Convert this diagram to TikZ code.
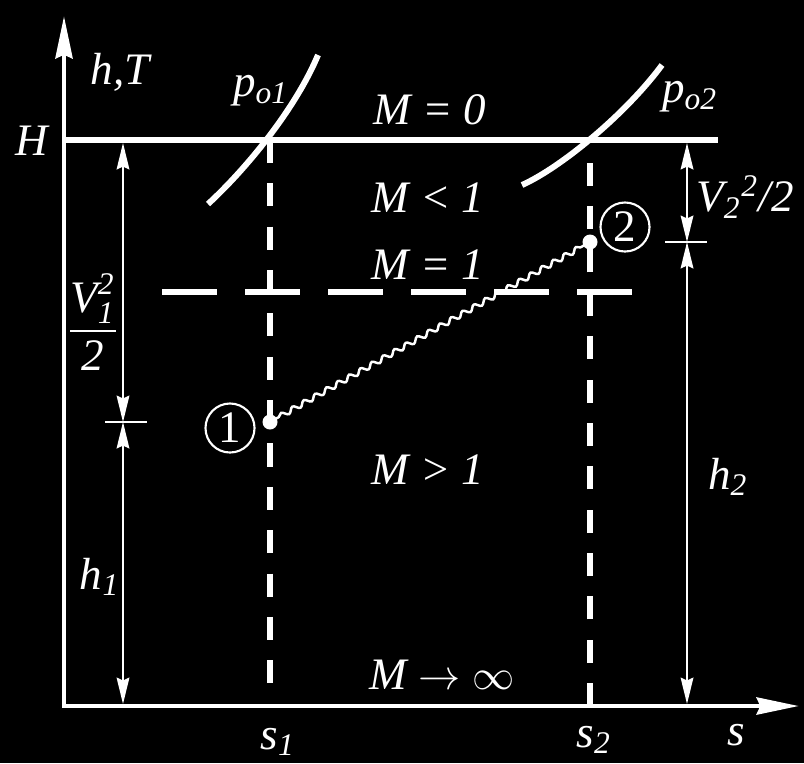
\documentclass[tikz,border=0pt]{standalone}
\usepackage{amsmath}
\usepackage{fontspec}
\setmainfont{Liberation Serif}
\usetikzlibrary{arrows.meta,decorations.pathmorphing}

\tikzset{
	dim/.style={line width=0.6pt, {Stealth[length=7.5pt,width=3.6pt,inset=0.8pt]}-{Stealth[length=7.5pt,width=3.6pt,inset=0.8pt]}},
	vdash/.style={line width=1.7pt, dash pattern=on 0.23cm off 0.2033cm},
	hdash/.style={line width=1.7pt, dash pattern=on 0.55cm off 0.28cm},
}

\begin{document}
\begin{tikzpicture}[x=0.01cm, y=-0.01cm, white,
		font=\fontsize{12.8}{15}\selectfont\itshape]
		\useasboundingbox (0,0) rectangle (804,763);
		\fill[black] (0,0) rectangle (804,763);

		\coordinate (origin) at (64,706);
		\coordinate (ytip) at (64,16);
		\coordinate (xtip) at (799,706);
		\coordinate (Hstart) at (64,140);
		\coordinate (Hend) at (718,140);
		\coordinate (a) at (270,140);
		\coordinate (b) at (590,140);
		\coordinate (a0) at (270,683);
		\coordinate (b0) at (590,706);
		\coordinate (p1) at (270,422);
		\coordinate (p2) at (590,242);

		% draw axes
		\draw [line width=1.4pt, {Stealth[length=12pt,width=4.8pt,inset=1pt]}-{Stealth[length=12pt,width=4.8pt,inset=1pt]}] (ytip) -- (origin) -- (xtip);
		\draw [line width=1.7pt] (Hstart) -- (Hend);

		% isobars p_o1, p_o2
		\draw [line width=1.7pt] (208,204) .. controls (245,170) and (295,110) .. (318,55);
		\draw [line width=1.7pt] (522,185) .. controls (560,168) and (625,115) .. (662,65);

		% dashed lines
		\draw [vdash] (a) -- (a0);
		\draw [vdash] (b0) -- (b);
		\draw [hdash] (162,292) -- (632,292);

		% the process 1 -> 2
		\draw [line width=0.7pt, decorate, decoration={snake, segment length=0.13cm, amplitude=0.025cm, pre length=0.1cm, post length=0.05cm}] (p1) -- (p2);
		\node at (p1)[circle,fill,inner sep=0pt,minimum size=0.15cm] (d1) {};
		\node at (p2)[circle,fill,inner sep=0pt,minimum size=0.15cm] (d2) {};
		\node [circle,draw,line width=0.6pt,minimum size=0.49cm,inner sep=0pt,font=\fontsize{12.8}{15}\selectfont\upshape] (n1) at (230,428) {1};
		\node [circle,draw,line width=0.6pt,minimum size=0.49cm,inner sep=0pt,font=\fontsize{12.8}{15}\selectfont\upshape] (n2) at (625,227) {2};

		% dimension arrows
		\coordinate (l0) at (123,143);
		\coordinate (l1) at (123,422);
		\coordinate (l2) at (123,704);
		\coordinate (lt0) at (105,422);
		\coordinate (lt1) at (147,422);
		\draw [dim] (l0) -- (l1);
		\draw [dim] (l1) -- (l2);
		\draw [line width=0.6pt] (lt0) -- (lt1);

		\coordinate (r0) at (687,143);
		\coordinate (r1) at (687,242);
		\coordinate (r2) at (687,704);
		\coordinate (rt0) at (665,242);
		\coordinate (rt1) at (707,242);
		\draw [dim] (r0) -- (r1);
		\draw [dim] (r1) -- (r2);
		\draw [line width=0.6pt] (rt0) -- (rt1);

		% labels
		\node (Hlab) at (32,141) {H};
		\node (hT) at (120,72) {h,T};
		\node (po1) at (261,91) {p\textsubscript{o1}};
		\node (po2) at (690,97) {p\textsubscript{o2}};
		\node (M0) at (430,110) {M = 0};
		\node (Mlt) at (428,198) {M < 1};
		\node (M1) at (428,265) {M = 1};
		\node (Mgt) at (428,470) {M > 1};
		\node (Minf) at (442,675) {M $\rightarrow\infty$};
		\node (v1) at (93,322) {$\dfrac{\textit{V}_{\textit{1}}^{\textit{2}}}{\textit{2}}$};
		\node (v2) at (745,197) {V\textsubscript{2}\textsuperscript{2}/2};
		\node (h1) at (100,577) {h\textsubscript{1}};
		\node (h2) at (728,477) {h\textsubscript{2}};
		\node (s1) at (278,742) {s\textsubscript{1}};
		\node (s2) at (594,740) {s\textsubscript{2}};
		\node (s) at (736,735) {s};
\end{tikzpicture}
\end{document}
